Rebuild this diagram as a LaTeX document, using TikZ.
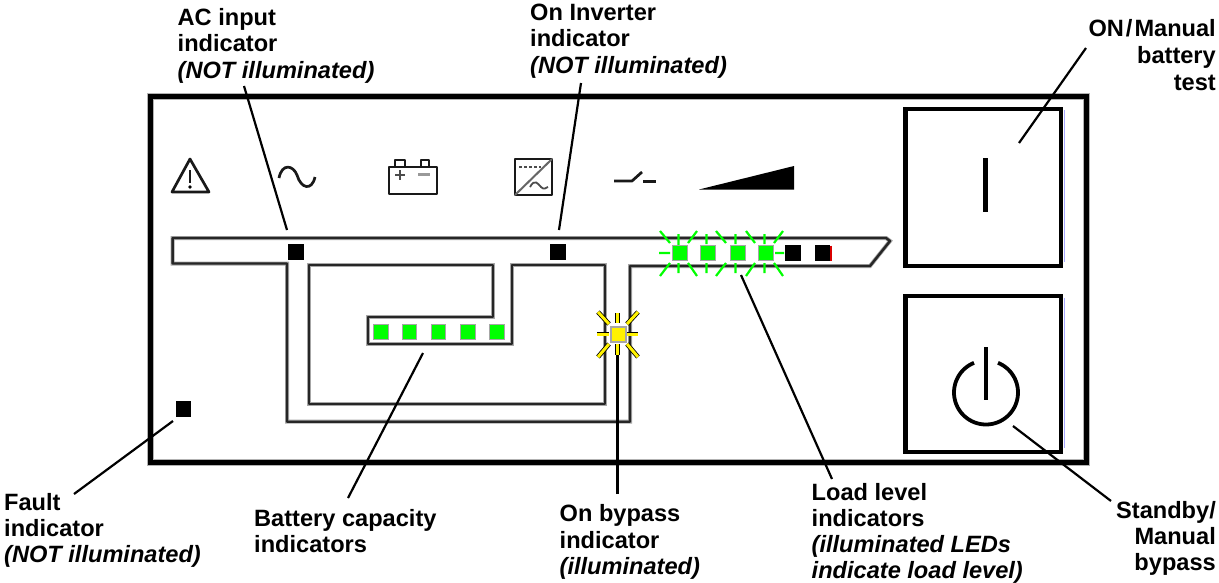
\documentclass[tikz,border=0pt]{standalone}
\usepackage{fontspec}
\setmainfont{Liberation Sans}
\newcommand{\lblfont}{\bfseries\fontsize{23.6}{26.3}\selectfont}
\begin{document}
\begin{tikzpicture}[x=1pt,y=-1pt,
 panel/.style={draw=black,line width=5pt,line join=miter,preaction={draw=black!30,line width=7pt}},
 circuit/.style={draw=black!85,line width=2.4pt,line join=round,preaction={draw=black!35,line width=4pt}},
 btn/.style={draw=black,line width=4.6pt},
 leader/.style={draw=black,line width=2.2pt},
 icon/.style={draw=black!90,line width=2.7pt,line join=round},
 lbl/.style={font=\lblfont,inner sep=0pt,align=left,anchor=base west},
 lblr/.style={font=\lblfont,inner sep=0pt,align=right,anchor=base east},
 ledg/.style={rectangle,fill=green,draw=black!35,line width=1pt,minimum size=14.5pt,inner sep=0pt},
 ledy/.style={rectangle,fill=yellow,draw=black!35,line width=2pt,minimum size=15pt,inner sep=0pt},
 ledk/.style={rectangle,fill=black,minimum size=15.5pt,inner sep=0pt},
 ray/.style={draw=green,line width=2.2pt},
 rayy/.style={draw=yellow,line width=3pt,preaction={draw=black,line width=4.6pt}},
]
\useasboundingbox (0,0) rectangle (1219,582);
\fill[white] (0,0) rectangle (1219,582);
% panel
\draw[panel] (150,96.5) rectangle (1086.5,462.5);
% buttons
\draw[draw=blue!35,line width=1pt] (1064,110) -- (1064,262) (1064,298) -- (1064,448);
\draw[btn] (905.3,109) rectangle (1061,266);
\draw[btn] (905.3,296) rectangle (1061,452);
\draw[black,line width=5pt] (985,158) -- (985,212);
\draw[black,line width=4.6pt] (986,347) -- (986,400);
\draw[black,line width=3.8pt,smooth] plot[domain=-68:248,samples=80] ({986+32*cos(\x)},{392.5+32*sin(\x)});
% circuit lines
\draw[circuit] (172.6,238) -- (886,238) -- (890,241) -- (870,266) -- (630,266) -- (630,421.7) -- (287,421.7) -- (287,263.5) -- (172.6,263.5) -- cycle;
\draw[circuit] (309,265) -- (493,265) -- (493,317) -- (368,317) -- (368,344) -- (512,344) -- (512,265) -- (605,265) -- (605,404) -- (309,404) -- cycle;
% icons
\draw[icon] (190,159) -- (172,192) -- (209,192) -- cycle;
\draw[icon] (190,170) -- (190,183);
\fill[black] (190,187) circle (1.8pt);
\draw[icon] (279,178) .. controls (282,163) and (293,165) .. (297,175) .. controls (301,189) and (312,191) .. (315,177);
\draw[icon] (389,167) rectangle (437,194);
\draw[icon,line width=2.2pt] (395,167) -- (395,160) -- (405,160) -- (405,167);
\draw[icon,line width=2.2pt] (421,167) -- (421,160) -- (429,160) -- (429,167);
\draw[black!70,line width=1.8pt] (395,175) -- (405,175) (400,170) -- (400,180);
\draw[black!40,line width=3pt] (418,174) -- (430,174);
\draw[icon,line width=2.6pt] (515,159) rectangle (552,195);
\draw[black!60,line width=2pt] (515,195) -- (552,159);
\draw[black!70,line width=1.8pt,densely dashed] (519,167) -- (541,167);
\draw[black!70,line width=1.8pt] (530,187) .. controls (535,178) and (538,184) .. (541,187) .. controls (544,190) and (546,188) .. (548,187);
\draw[icon] (614,181) -- (632,181) -- (642,172);
\draw[icon] (643,181.5) -- (656,181.5);
\fill[black] (699,189.5) -- (794,166) -- (794,189.5) -- cycle;
% rays load level
\draw[ray]
 (659,253) -- (670,253)
 (660,231) -- (670,243)
 (678.5,234) -- (678.5,245)
 (697,231) -- (688,243)
 (660,276) -- (670,263)
 (678.5,263) -- (678.5,273)
 (697,276) -- (688,263)
 (706.5,234) -- (706.5,244) (706.5,263) -- (706.5,273)
 (716,231) -- (726,243) (716,276) -- (726,263)
 (735.5,234) -- (735.5,244) (735.5,263) -- (735.5,273)
 (746,231) -- (755,243) (746,276) -- (755,263)
 (764.5,234) -- (764.5,244) (764.5,263) -- (764.5,273)
 (783,231) -- (774,243) (783,276) -- (774,263)
 (775,253) -- (784,253);
% rays yellow
\draw[rayy] (597,334) -- (609,334);
\draw[rayy] (627,334) -- (638,334);
\draw[rayy] (617.5,313) -- (617.5,323);
\draw[rayy] (617.5,344) -- (617.5,355);
\draw[rayy] (598,312) -- (609,324);
\draw[rayy] (638,312) -- (627,324);
\draw[rayy] (598,357) -- (609,344);
\draw[rayy] (638,357) -- (627,344);
% LEDs
\node[ledk] (fault) at (183.5,409) {};
\node[ledk] (ac) at (296,252) {};
\node[ledk] (inv) at (558,252) {};
\node[ledg] (b1) at (381,332) {};
\node[ledg] (b2) at (409.5,332) {};
\node[ledg] (b3) at (438.5,332) {};
\node[ledg] (b4) at (468,332) {};
\node[ledg] (b5) at (497,332) {};
\node[ledg] (l1) at (680,253) {};
\node[ledg] (l2) at (708,253) {};
\node[ledg] (l3) at (738,253) {};
\node[ledg] (l4) at (766,253) {};
\draw[draw=yellow!70!black,line width=1.2pt] (800.5,245.5) -- (800.5,261);
\draw[draw=red!85!black,line width=1.6pt] (831,245.5) -- (831,261);
\node[ledk] (l5) at (793,253) {};
\node[ledk] (l6) at (822.5,253) {};
\node[ledy] (byp) at (618,334) {};
% labels
\node[lbl] (tac) at (177.5,25) {AC input};
\node[lbl] (tac2) at (177.5,51.8) {indicator};
\node[lbl] (tac3) at (177.5,78) {\itshape (NOT illuminated)};
\node[lbl] (tinv) at (530,20) {On Inverter};
\node[lbl] (tinv2) at (530,46.7) {indicator};
\node[lbl] (tinv3) at (530,73.5) {\itshape (NOT illuminated)};
\node[lblr] (ton) at (1216,36.7) {ON\kern2pt/\kern2ptManual};
\node[lblr] (ton2) at (1216,63) {battery};
\node[lblr] (ton3) at (1216,90) {test};
\node[lbl] (tfa) at (4,510) {Fault};
\node[lbl] (tfa2) at (4,536.3) {indicator};
\node[lbl] (tfa3) at (4,562.6) {\itshape (NOT illuminated)};
\node[lbl] (tba) at (254,526) {Battery capacity};
\node[lbl] (tba2) at (254,552.5) {indicators};
\node[lbl] (tby) at (559.5,521.7) {On bypass};
\node[lbl] (tby2) at (559.5,548) {indicator};
\node[lbl] (tby3) at (559.5,574.5) {\itshape (illuminated)};
\node[lbl] (tlo) at (811.5,500) {Load level};
\node[lbl] (tlo2) at (811.5,526) {indicators};
\node[lbl] (tlo3) at (811.5,552.3) {\itshape (illuminated LEDs};
\node[lbl] (tlo4) at (811.5,578.6) {\itshape indicate load level)};
\node[lblr] (tst) at (1216,518) {Standby/};
\node[lblr] (tst2) at (1216,544.3) {Manual};
\node[lblr] (tst3) at (1216,570.6) {bypass};
% leaders
\coordinate (cac) at (244,86); \coordinate (eac) at (287,230);
\coordinate (cinv) at (581,83); \coordinate (einv) at (559,230);
\coordinate (con) at (1086,48); \coordinate (eon) at (1019,143);
\coordinate (cfa) at (74,494); \coordinate (efa) at (173,421);
\coordinate (cba) at (348,498); \coordinate (eba) at (423,353);
\coordinate (cby) at (617.5,494); \coordinate (eby) at (617.5,355);
\coordinate (clo) at (832,479); \coordinate (elo) at (741,275);
\coordinate (cst) at (1111,501); \coordinate (est) at (1013,426);
\draw[leader] (cac) -- (eac);
\draw[leader] (cinv) -- (einv);
\draw[leader] (con) -- (eon);
\draw[leader] (cfa) -- (efa);
\draw[leader] (cba) -- (eba);
\draw[leader,line width=2.6pt] (cby) -- (eby);
\draw[leader] (clo) -- (elo);
\draw[leader] (cst) -- (est);
\end{tikzpicture}
\end{document}
